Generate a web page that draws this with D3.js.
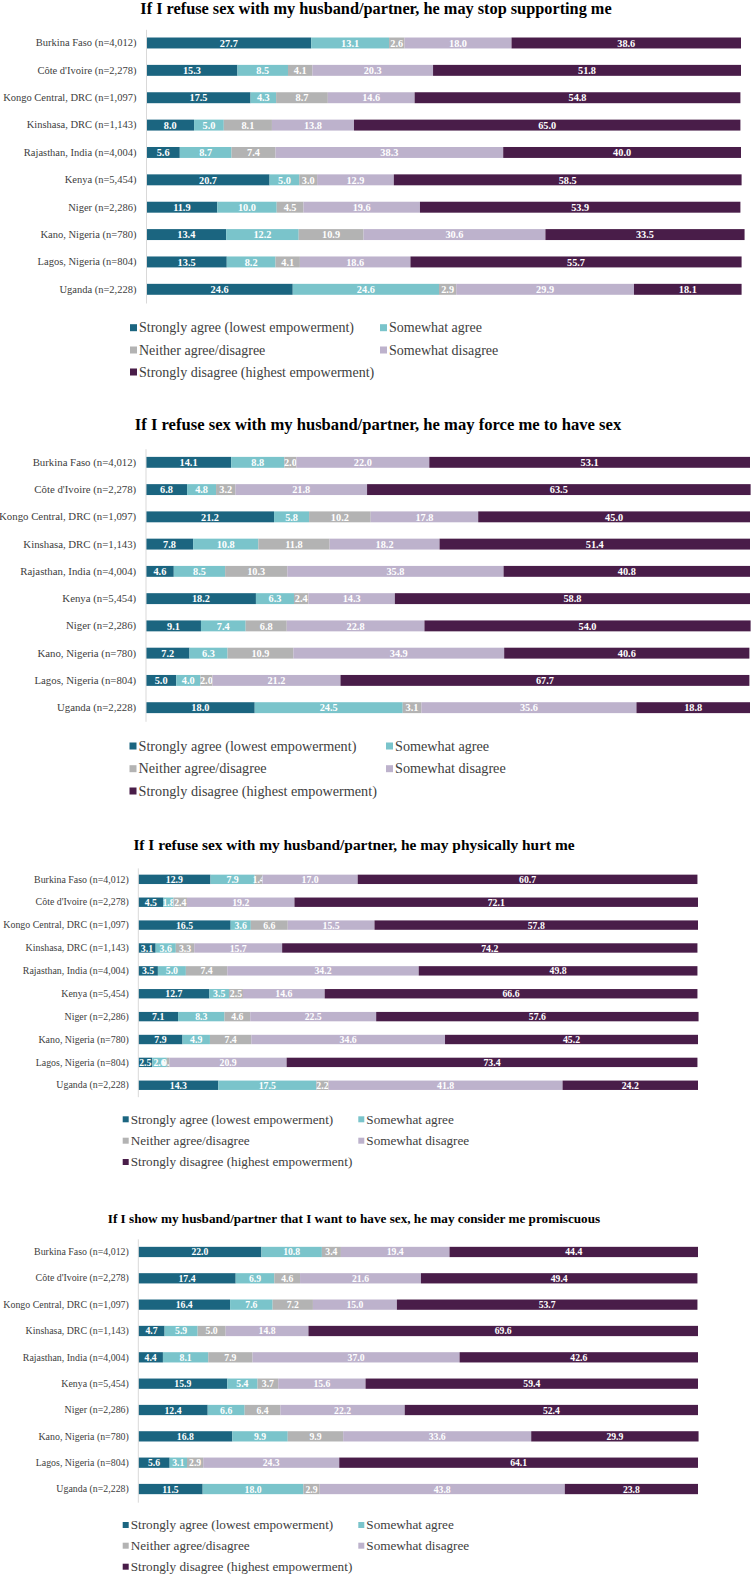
<!DOCTYPE html>
<html>
<head>
<meta charset="utf-8">
<script src="https://cdn.jsdelivr.net/npm/d3@7"></script>
<style>
  body { margin: 0; background: #fff; }
  svg { display: block; font-family: "Liberation Serif", "Times New Roman", serif; }
</style>
</head>
<body>
<div id="chart"></div>
<script>
// countries / sample sizes, same order in every panel
var countries = ["Burkina Faso (n=4,012)", "Côte d'Ivoire (n=2,278)", "Kongo Central, DRC (n=1,097)",
  "Kinshasa, DRC (n=1,143)", "Rajasthan, India (n=4,004)", "Kenya (n=5,454)", "Niger (n=2,286)",
  "Kano, Nigeria (n=780)", "Lagos, Nigeria (n=804)", "Uganda (n=2,228)"];

var categories = ["Strongly agree (lowest empowerment)", "Somewhat agree", "Neither agree/disagree",
  "Somewhat disagree", "Strongly disagree (highest empowerment)"];

var colors = ["#1b6580", "#7ac4cb", "#b3b3b3", "#bdb2cc", "#491d49"];

var titles = [
  "If I refuse sex with my husband/partner, he may stop supporting me",
  "If I refuse sex with my husband/partner, he may force me to have sex",
  "If I refuse sex with my husband/partner, he may physically hurt me",
  "If I show my husband/partner that I want to have sex, he may consider me promiscuous"
];

// one row per country, one value per category (%)
var stopSupporting = [
  [27.7, 13.1, 2.6, 18.0, 38.6],
  [15.3, 8.5, 4.1, 20.3, 51.8],
  [17.5, 4.3, 8.7, 14.6, 54.8],
  [8.0, 5.0, 8.1, 13.8, 65.0],
  [5.6, 8.7, 7.4, 38.3, 40.0],
  [20.7, 5.0, 3.0, 12.9, 58.5],
  [11.9, 10.0, 4.5, 19.6, 53.9],
  [13.4, 12.2, 10.9, 30.6, 33.5],
  [13.5, 8.2, 4.1, 18.6, 55.7],
  [24.6, 24.6, 2.9, 29.9, 18.1]
];

var forceSex = [
  [14.1, 8.8, 2.0, 22.0, 53.1],
  [6.8, 4.8, 3.2, 21.8, 63.5],
  [21.2, 5.8, 10.2, 17.8, 45.0],
  [7.8, 10.8, 11.8, 18.2, 51.4],
  [4.6, 8.5, 10.3, 35.8, 40.8],
  [18.2, 6.3, 2.4, 14.3, 58.8],
  [9.1, 7.4, 6.8, 22.8, 54.0],
  [7.2, 6.3, 10.9, 34.9, 40.6],
  [5.0, 4.0, 2.0, 21.2, 67.7],
  [18.0, 24.5, 3.1, 35.6, 18.8]
];

var physicallyHurt = [
  [12.9, 7.9, 1.4, 17.0, 60.7],
  [4.5, 1.8, 2.4, 19.2, 72.1],
  [16.5, 3.6, 6.6, 15.5, 57.8],
  [3.1, 3.6, 3.3, 15.7, 74.2],
  [3.5, 5.0, 7.4, 34.2, 49.8],
  [12.7, 3.5, 2.5, 14.6, 66.6],
  [7.1, 8.3, 4.6, 22.5, 57.6],
  [7.9, 4.9, 7.4, 34.6, 45.2],
  [2.5, 2.6, 0.5, 20.9, 73.4],
  [14.3, 17.5, 2.2, 41.8, 24.2]
];

var promiscuous = [
  [22.0, 10.8, 3.4, 19.4, 44.4],
  [17.4, 6.9, 4.6, 21.6, 49.4],
  [16.4, 7.6, 7.2, 15.0, 53.7],
  [4.7, 5.9, 5.0, 14.8, 69.6],
  [4.4, 8.1, 7.9, 37.0, 42.6],
  [15.9, 5.4, 3.7, 15.6, 59.4],
  [12.4, 6.6, 6.4, 22.2, 52.4],
  [16.8, 9.9, 9.9, 33.6, 29.9],
  [5.6, 3.1, 2.9, 24.3, 64.1],
  [11.5, 18.0, 2.9, 43.8, 23.8]
];

const W = 752, H = 1574;

// layout of each of the 4 panels (they were pasted in at slightly different scales)
var panels = [
  {data: stopSupporting, title: titles[0], tx: 376, ty: 13.5, tsize: 16.3,
   x0: 146.5, x1: 741, y0: 29.3, y1: 303, pad: 0.6, labelEnd: 137, lsize: 10.5, vsize: 10.3,
   leg: {x: 130, x2: 380, rows: [327.7, 350, 372], sq: 7, size: 14}},
  {data: forceSex, title: titles[1], tx: 378, ty: 430, tsize: 16.6,
   x0: 146, x1: 750, y0: 448.7, y1: 721.3, pad: 0.6, labelEnd: 136.7, lsize: 10.8, vsize: 10.3,
   leg: {x: 129.5, x2: 386, rows: [746, 768.7, 791], sq: 7, size: 14.2}},
  {data: physicallyHurt, title: titles[2], tx: 354, ty: 850, tsize: 15.4,
   x0: 138.3, x1: 698, y0: 867.9, y1: 1096.7, pad: 0.59, labelEnd: 129.3, lsize: 9.9, vsize: 9.8,
   leg: {x: 122.7, x2: 358.3, rows: [1119.3, 1140.7, 1162], sq: 6, size: 13.2}},
  {data: promiscuous, title: titles[3], tx: 354, ty: 1222.7, tsize: 13.2,
   x0: 138.3, x1: 698, y0: 1238.8, y1: 1502.2, pad: 0.61, labelEnd: 129.3, lsize: 9.9, vsize: 9.7,
   leg: {x: 122.7, x2: 358.3, rows: [1525, 1545.7, 1566.7], sq: 6, size: 13.2}}
];

var svg = d3.select("#chart").append("svg")
  .attr("width", W)
  .attr("height", H);

function drawPanel(p){
  var g = svg.append("g");

  g.append("text")
    .attr("x", p.tx)
    .attr("y", p.ty)
    .attr("text-anchor", "middle")
    .style("font-weight", "bold")
    .style("font-size", p.tsize + "px")
    .style("fill", "#000")
    .text(p.title);

  var rows = p.data.map(function(v, i){
    var o = {country: countries[i]};
    categories.forEach(function(c, j){ o[c] = v[j]; });
    return o;
  });

  var x = d3.scaleLinear().domain([0, 100]).range([p.x0, p.x1]);
  var y = d3.scaleBand().domain(countries).range([p.y0, p.y1]).paddingInner(p.pad).paddingOuter(p.pad / 2);

  var series = d3.stack().keys(categories)(rows);

  var layer = g.selectAll(".layer")
    .data(series)
    .enter().append("g")
    .attr("class", "layer")
    .style("fill", function(d, i){ return colors[i]; });

  layer.selectAll("rect")
    .data(function(d){ return d; })
    .enter().append("rect")
    .attr("x", function(d){ return x(d[0]); })
    .attr("y", function(d){ return y(d.data.country); })
    .attr("width", function(d){ return x(d[1]) - x(d[0]); })
    .attr("height", y.bandwidth());

  layer.selectAll("text")
    .data(function(d){ return d; })
    .enter().append("text")
    .attr("x", function(d){ return (x(d[0]) + x(d[1])) / 2; })
    .attr("y", function(d){ return y(d.data.country) + y.bandwidth() / 2; })
    .attr("dy", "0.36em")
    .attr("text-anchor", "middle")
    .style("fill", "#fff")
    .style("font-weight", "bold")
    .style("font-size", p.vsize + "px")
    .text(function(d){ return (d[1] - d[0]).toFixed(1); });

  // category axis: light vertical rule + country labels
  var yAxis = d3.axisLeft(y).tickSize(0).tickPadding(p.x0 - p.labelEnd);
  var ax = g.append("g")
    .attr("transform", "translate(" + (p.x0 - 0.5) + ",0)")
    .call(yAxis);
  ax.select(".domain").attr("stroke", "#d9d9d9");
  ax.selectAll("text")
    .style("font-family", "\"Liberation Serif\", \"Times New Roman\", serif")
    .style("font-size", p.lsize + "px")
    .style("fill", "#404040");

  // legend: two columns, filled row by row
  var leg = g.selectAll(".legend")
    .data(categories)
    .enter().append("g")
    .attr("class", "legend")
    .attr("transform", function(d, i){
      var lx = (i % 2 == 0) ? p.leg.x : p.leg.x2;
      return "translate(" + lx + "," + p.leg.rows[Math.floor(i / 2)] + ")";
    });
  leg.append("rect")
    .attr("x", 0)
    .attr("y", -p.leg.sq / 2)
    .attr("width", p.leg.sq)
    .attr("height", p.leg.sq)
    .style("fill", function(d, i){ return colors[i]; });
  leg.append("text")
    .attr("x", p.leg.sq + 2)
    .attr("dy", "0.33em")
    .style("font-size", p.leg.size + "px")
    .style("fill", "#404040")
    .text(function(d){ return d; });
}

panels.forEach(drawPanel);
</script>
</body>
</html>
